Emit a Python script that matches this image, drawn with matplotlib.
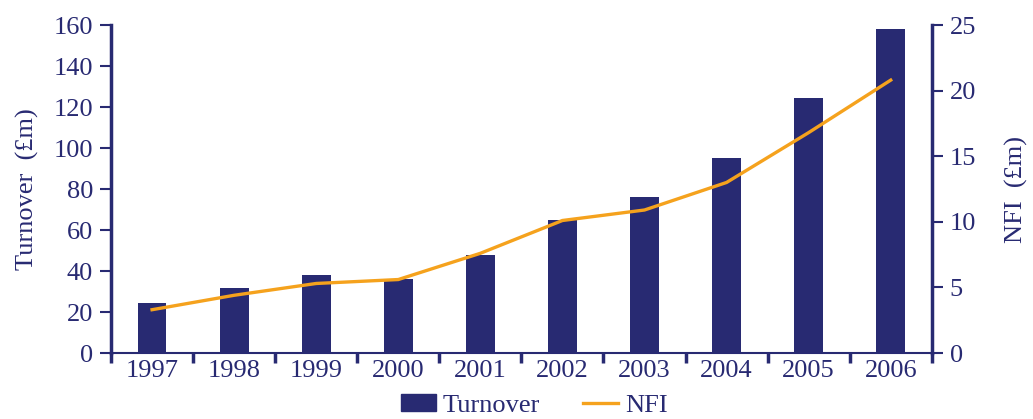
import numpy as np
import matplotlib
matplotlib.use('Agg')
import matplotlib.pyplot as plt
from matplotlib.patches import Patch
from matplotlib.lines import Line2D

# dados
years = ['1997', '1998', '1999', '2000', '2001', '2002', '2003', '2004', '2005', '2006']
turnover = [24.5, 31.5, 38, 36, 47.8, 65, 76, 95, 124.5, 158]
nfi = [3.3, 4.4, 5.3, 5.6, 7.6, 10.1, 10.9, 13.0, 16.8, 20.8]

navy = '#282A72'
orange = '#F5A21D'

plt.rcParams['font.family'] = ['Liberation Serif', 'DejaVu Serif']
plt.rcParams['font.size'] = 19

fig = plt.figure(figsize=(10.33, 4.19), dpi=100)
ax = fig.add_axes([0.1075, 0.1575, 0.7945, 0.7828])
x = np.arange(len(years))

ax.bar(x, turnover, width=0.35, color=navy, zorder=2)
ax.set_xlim(-0.5, 9.5)
ax.set_ylim(0, 160)
ax.set_yticks(range(0, 161, 20))
ax.set_xticks(x)
ax.set_xticklabels(years)
ax.set_xticks(np.arange(-0.5, 10, 1), minor=True)
ax.tick_params(axis='x', which='major', length=0, pad=5, colors=navy)
ax.tick_params(axis='x', which='minor', length=7, width=2.5, direction='out', color=navy)
ax.tick_params(axis='y', length=8, width=1.5, direction='out', colors=navy, pad=5)
ax.set_ylabel('Turnover  (£m)', color=navy, labelpad=10)
for s in ['top', 'right']:
    ax.spines[s].set_visible(False)
ax.spines['left'].set_color(navy)
ax.spines['left'].set_linewidth(2.5)
ax.spines['bottom'].set_color(navy)
ax.spines['bottom'].set_linewidth(1.5)

ax2 = ax.twinx()
ax2.plot(x, nfi, color=orange, lw=2.4, zorder=3)
ax2.set_ylim(0, 25)
ax2.set_yticks(range(0, 26, 5))
ax2.tick_params(axis='y', length=8, width=1.5, direction='out', colors=navy, pad=5)
ax2.set_ylabel('NFI  (£m)', color=navy, labelpad=21)
for s in ['top', 'left', 'bottom']:
    ax2.spines[s].set_visible(False)
ax2.spines['right'].set_color(navy)
ax2.spines['right'].set_linewidth(2.5)

handles = [Patch(color=navy), Line2D([], [], color=orange, lw=2.4)]
leg = fig.legend(handles, ['Turnover', 'NFI'], loc='center', bbox_to_anchor=(0.517, 0.032),
                 ncol=2, frameon=False, handlelength=1.35, handleheight=0.6, columnspacing=1.6,
                 handletextpad=0.25, borderpad=0.1)
for t in leg.get_texts():
    t.set_color(navy)

fig.savefig('out.png', dpi=100)
